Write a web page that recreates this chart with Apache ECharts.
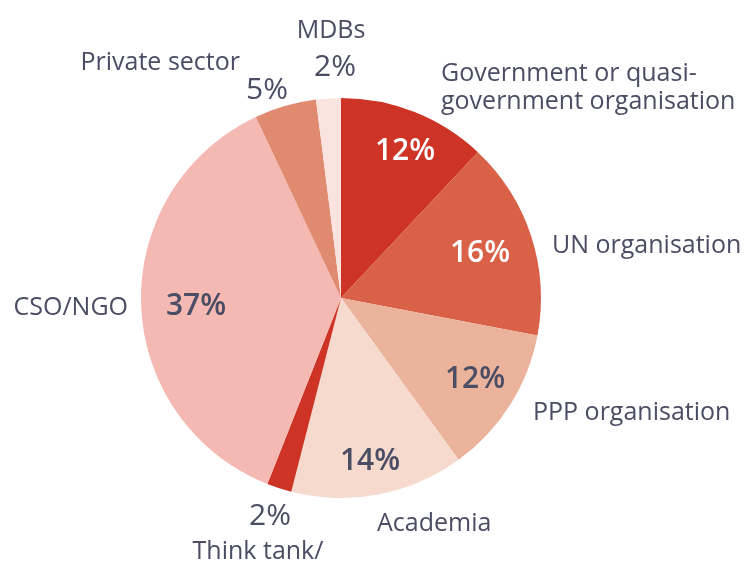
<!DOCTYPE html>
<html>
<head>
<meta charset="utf-8">
<script src="https://cdn.jsdelivr.net/npm/echarts@6/dist/echarts.min.js"></script>
<style>
  html, body { margin: 0; padding: 0; background: #fff; }
  #main { width: 744px; height: 563px; }
</style>
</head>
<body>
<div id="main"></div>
<script>
// data, clockwise from 12 o'clock
var categories = [
  "Government or quasi-\ngovernment organisation",
  "UN organisation",
  "PPP organisation",
  "Academia",
  "Think tank/",
  "CSO/NGO",
  "Private sector",
  "MDBs"
];
var shares = [12, 16, 12, 14, 2, 37, 5, 2];
var colors = ["#cd3426", "#d96147", "#ebb39c", "#f5dacd", "#cd3426", "#f5b9b3", "#e08b6f", "#fbe3e0"];

var textColor = "#4a4d63";
var font = "Open Sans";

var myChart = echarts.init(document.getElementById("main"));

// where each name label sits, relative to the pie centre
var nameSpots = [
  { dx: 100, dy: -210, align: "left" },
  { dx: 211, dy: -52, align: "left" },
  { dx: 192, dy: 115, align: "left" },
  { dx: 36, dy: 226, align: "left" },
  { dx: -83, dy: 254, align: "center" },
  { dx: -213, dy: 10, align: "right" },
  { dx: -101, dy: -235, align: "right" },
  { dx: -10, dy: -267, align: "center" }
];
// percent labels (inside for big slices, outside for small ones)
var pctSpots = [
  { dx: 64, dy: -147 },
  { dx: 139, dy: -45 },
  { dx: 134, dy: 81 },
  { dx: 29, dy: 163 },
  { dx: -71, dy: 218 },
  { dx: -145, dy: 8 },
  { dx: -74, dy: -208 },
  { dx: -6, dy: -231 }
];
var cx = 341, cy = 298;
var whiteText = [true, true, false, false, false, false, false, false];
var small = [false, false, false, false, true, false, true, true];

var pieData = categories.map(function (c, i) {
  return { name: c, value: shares[i], itemStyle: { color: colors[i] } };
});

var option = {
  animation: false,
  series: [
    {
      name: "names",
      type: "pie",
      center: [cx, cy],
      radius: [0, 200],
      startAngle: 90,
      clockwise: true,
      silent: true,
      itemStyle: { borderWidth: 0 },
      label: {
        show: true,
        position: "inside",
        overflow: "none",
        formatter: "{b}",
        color: textColor,
        fontFamily: font,
        fontSize: 25,
        lineHeight: 28
      },
      labelLine: { show: false },
      labelLayout: function (p) {
        var s = nameSpots[p.dataIndex];
        return { x: cx + s.dx, y: cy + s.dy, align: s.align, verticalAlign: "middle" };
      },
      data: pieData
    },
    {
      name: "percent",
      type: "pie",
      center: [cx, cy],
      radius: [0, 200],
      startAngle: 90,
      clockwise: true,
      silent: true,
      itemStyle: { color: "transparent", borderWidth: 0 },
      label: {
        show: true,
        position: "inside",
        overflow: "none",
        formatter: function (p) {
          return p.value + "%";
        },
        fontFamily: font
      },
      labelLine: { show: false },
      labelLayout: function (p) {
        var s = pctSpots[p.dataIndex];
        return { x: cx + s.dx, y: cy + s.dy, align: "center", verticalAlign: "middle" };
      },
      data: shares.map(function (v, i) {
        return {
          name: categories[i],
          value: v,
          label: {
            color: whiteText[i] ? "#ffffff" : textColor,
            fontWeight: small[i] ? "normal" : 600,
            fontSize: 30
          }
        };
      })
    }
  ]
};

myChart.setOption(option);
window.addEventListener("resize", function () {
  myChart.resize();
});
</script>
</body>
</html>
